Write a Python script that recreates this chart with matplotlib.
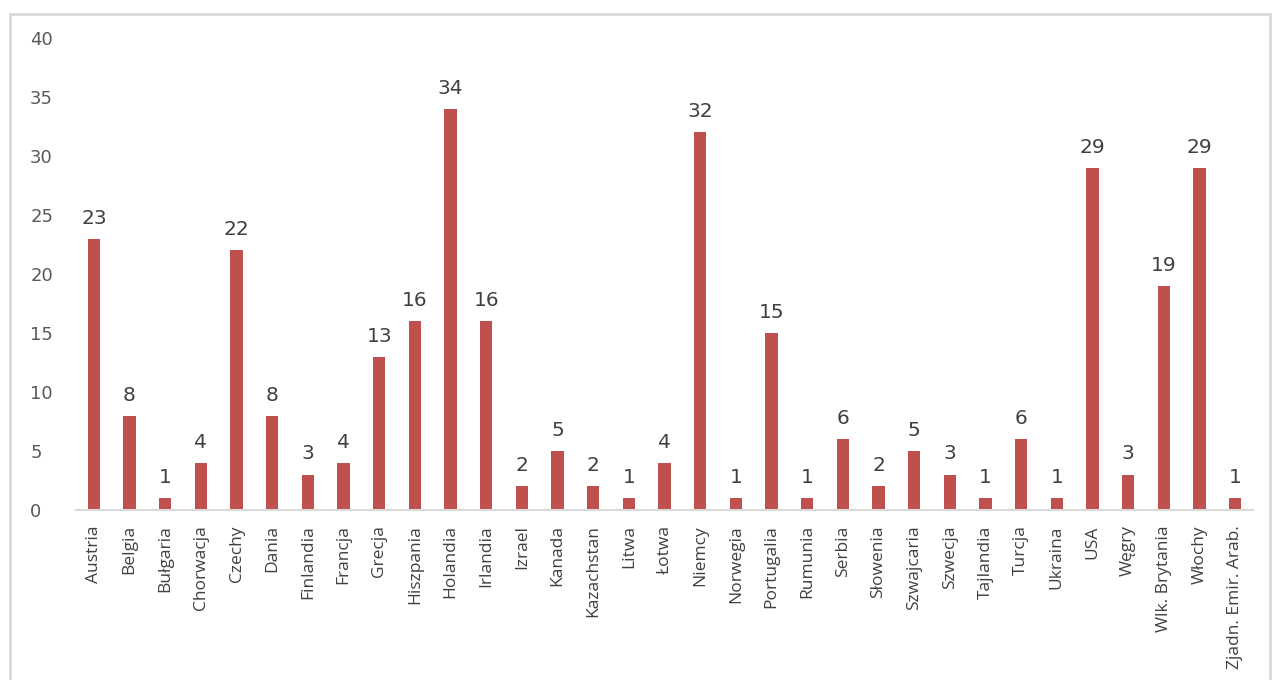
import matplotlib.pyplot as plt
from matplotlib.patches import Rectangle

countries = ['Austria', 'Belgia', 'Bułgaria', 'Chorwacja', 'Czechy', 'Dania',
             'Finlandia', 'Francja', 'Grecja', 'Hiszpania', 'Holandia', 'Irlandia',
             'Izrael', 'Kanada', 'Kazachstan', 'Litwa', 'Łotwa', 'Niemcy',
             'Norwegia', 'Portugalia', 'Rumunia', 'Serbia', 'Słowenia',
             'Szwajcaria', 'Szwecja', 'Tajlandia', 'Turcja', 'Ukraina', 'USA',
             'Węgry', 'Wlk. Brytania', 'Włochy', 'Zjadn. Emir. Arab.']
counts = [23, 8, 1, 4, 22, 8, 3, 4, 13, 16, 34, 16, 2, 5, 2, 1, 4, 32,
          1, 15, 1, 6, 2, 5, 3, 1, 6, 1, 29, 3, 19, 29, 1]
y_ticks = [0, 5, 10, 15, 20, 25, 30, 35, 40]

plt.rcParams['font.family'] = ['Open Sans', 'DejaVu Sans']

fig = plt.figure(figsize=(12.73, 6.8), dpi=100)
# light frame around the chart area
fig.patches.append(Rectangle((10 / 1273, -0.05), 1260 / 1273, 1.05 - 14 / 680,
                             transform=fig.transFigure, fill=False,
                             edgecolor='#d9d9d9', linewidth=2))

ax = fig.add_axes([0.0597, 0.25, 0.9246, 0.694])
x = range(len(countries))
bars = ax.bar(x, counts, width=0.34, color='#c0504d')

for bar, v in zip(bars, counts):
    ax.annotate(str(v), (bar.get_x() + bar.get_width() / 2, v),
                xytext=(0, 8), textcoords='offset points',
                ha='center', va='bottom', fontsize=14.5, color='#404040',
                family='DejaVu Sans')

ax.set_xlim(-0.5, len(countries) - 0.5)
ax.set_ylim(0, 40)
ax.set_yticks(y_ticks)
ax.set_yticklabels([str(t) for t in y_ticks], ha='left', family='DejaVu Sans')
ax.set_xticks(list(x))
ax.set_xticklabels(countries, rotation=90, fontsize=12.5, color='#404040',
                   family=['Open Sans', 'DejaVu Sans'])
ax.tick_params(axis='y', length=0, pad=33, labelsize=13, labelcolor='#595959')
ax.tick_params(axis='x', length=0, pad=11)

for side in ['top', 'right', 'left']:
    ax.spines[side].set_visible(False)
ax.spines['bottom'].set_color('#d9d9d9')
ax.spines['bottom'].set_linewidth(1.5)

fig.savefig('out.png', dpi=100)
